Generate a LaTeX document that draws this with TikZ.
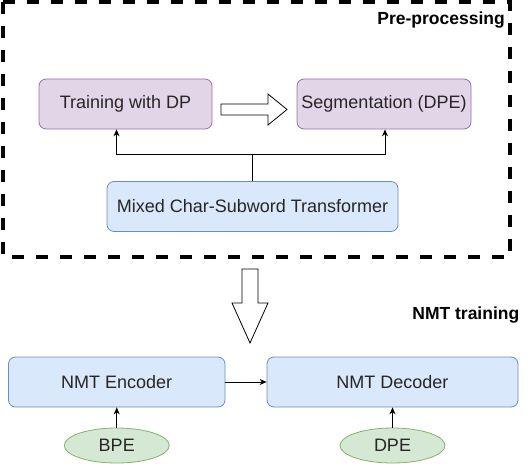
\documentclass[tikz,border=0pt]{standalone}
\usepackage{fontspec}
\setmainfont{Liberation Sans}
\usetikzlibrary{arrows.meta,positioning,shapes.geometric}

\definecolor{dpfill}{HTML}{E1D5E7}
\definecolor{dpline}{HTML}{9673A6}
\definecolor{nmtfill}{HTML}{DAE8FC}
\definecolor{nmtline}{HTML}{6C8EBF}
\definecolor{bpefill}{HTML}{D5E8D4}
\definecolor{bpeline}{HTML}{82B366}
\definecolor{txt}{HTML}{262626}

\begin{document}
\begin{tikzpicture}[
  x=1pt,y=-1pt,
  every node/.style={font=\fontsize{18}{21}\selectfont,text=txt},
  box/.style={rectangle,rounded corners=7pt,line width=0.8pt,
              minimum height=50pt,inner sep=0pt},
  dpbox/.style={box,fill=dpfill,draw=dpline},
  nmtbox/.style={box,fill=nmtfill,draw=nmtline},
  token/.style={ellipse,fill=bpefill,draw=bpeline,line width=0.8pt,
                minimum width=105pt,minimum height=35pt,inner sep=0pt},
  heading/.style={font=\bfseries\fontsize{17.5}{21}\selectfont,
                  text=black,inner sep=0pt,anchor=east},
  link/.style={-{Stealth[length=7pt,width=6pt]},line width=0.8pt},
  blockarrow/.style={draw=black,fill=white,line width=0.8pt,line join=miter}
]
\useasboundingbox (0,0) rectangle (532,468);

% pre-processing stage
\draw[line width=3.4pt,dash pattern=on 12pt off 12pt] (3,2) rectangle (510,257);
\node[heading] (pre) at (505,20) {Pre-processing};

\node[dpbox,minimum width=173pt] (train) at (125.5,104) {Training with DP};
\node[dpbox,minimum width=174pt] (seg)   at (384,104)   {Segmentation (DPE)};
\node[nmtbox,minimum width=291pt] (mixed) at (252.5,206.5)
  {Mixed Char-Subword Transformer};

\coordinate (split) at (252.5,154);
\draw[line width=0.8pt] (mixed.north) -- (split);
\draw[link] (split) -| ([xshift=-9pt]train.south);
\draw[link] (split) -| ([xshift=1pt]seg.south);

\draw[blockarrow] (221,104)--(268,104)--(268,94)--(287,109.5)
  --(268,125)--(268,115)--(221,115)--cycle;

% hand-over to NMT
\draw[blockarrow] (242,269)--(258,269)--(258,303)--(268,303)
  --(250,343)--(232,303)--(242,303)--cycle;

% NMT training stage
\node[heading] (nmt) at (519.5,315) {NMT training};

\node[nmtbox,minimum width=216.5pt] (enc) at (116.75,382) {NMT Encoder};
\node[nmtbox,minimum width=251pt]   (dec) at (392.5,382)  {NMT Decoder};
\node[token] (bpe) at (116.75,445.5) {BPE};
\node[token] (dpe) at (392.5,445.5)  {DPE};

\draw[link] (enc.east) -- (dec.west);
\draw[link] (bpe.north) -- (enc.south);
\draw[link] (dpe.north) -- (dec.south);
\end{tikzpicture}
\end{document}
